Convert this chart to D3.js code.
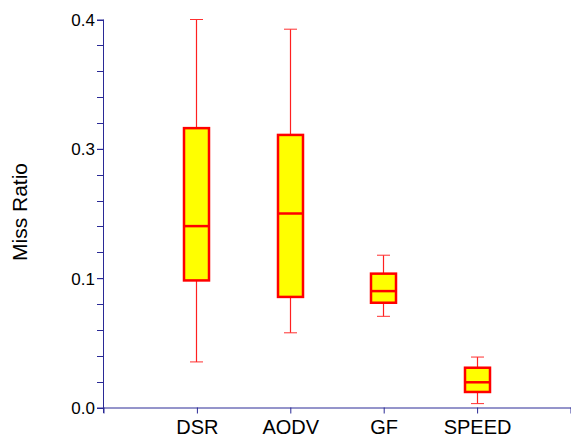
<!DOCTYPE html>
<html>
<head>
<meta charset="utf-8">
<script src="https://cdn.jsdelivr.net/npm/d3@7"></script>
<style>
  body { margin: 0; background: #fff; }
  text { font-family: "Liberation Sans", Arial, sans-serif; fill: #000; }
</style>
</head>
<body>
<div id="canvas"></div>
<script>
// Box plot of miss ratio per routing protocol
const categories = ["DSR", "AODV", "GF", "SPEED"];
const lower  = [0.047, 0.077, 0.094, 0.004];
const q1     = [0.131, 0.114, 0.108, 0.016];
const median = [0.187, 0.200, 0.120, 0.026];
const q3     = [0.288, 0.281, 0.138, 0.041];
const upper  = [0.400, 0.390, 0.157, 0.052];

const yTickValues = [0, 0.1333, 0.2667, 0.4];
const yTickLabels = ["0.0", "0.1", "0.3", "0.4"];

const width = 571, height = 437;
const axisColor = "#2a2a96";

const svg = d3.select("#canvas").append("svg")
  .attr("width", width).attr("height", height);

const x = d3.scaleLinear().domain([0, 5]).range([103.5, 570.5]);
const y = d3.scaleLinear().domain([0, 0.4]).range([407.5, 19.5]);

// y axis (major + minor ticks)
const minor = d3.range(0, 16).map(i => i * 0.4 / 15);
svg.append("g").selectAll("line.minor").data(minor).join("line")
  .attr("x1", 97).attr("x2", 103.5)
  .attr("y1", d => Math.round(y(d)) + 0.5).attr("y2", d => Math.round(y(d)) + 0.5)
  .attr("stroke", axisColor);

const yAxis = d3.axisLeft(y).tickValues(yTickValues)
  .tickFormat((d, i) => yTickLabels[i]).tickSize(7).tickPadding(1).tickSizeOuter(0);
const gy = svg.append("g").attr("transform", "translate(103.5,0)").call(yAxis);
gy.select(".domain").remove();
gy.selectAll("line").attr("stroke", axisColor).attr("transform", "translate(-103.5,0)")
  .attr("x1", 97).attr("x2", 103.5);
gy.selectAll("text").style("font-size", "17px").attr("x", -8.5).attr("dy", "0.36em");

svg.append("line").attr("x1", 103.5).attr("x2", 103.5).attr("y1", 19.5).attr("y2", 413)
  .attr("stroke", axisColor);

// x axis
const xAxis = d3.axisBottom(x).tickValues([0, 1, 2, 3, 4, 5])
  .tickFormat(d => categories[d - 1] || "").tickSize(6).tickPadding(6).tickSizeOuter(0);
const gx = svg.append("g").attr("transform", "translate(0,407.5)").call(xAxis);
gx.select(".domain").attr("stroke", axisColor);
gx.selectAll("line").attr("stroke", axisColor);
gx.selectAll("text").style("font-size", "20px");

// y label
svg.append("text")
  .attr("transform", "translate(27,212) rotate(-90)")
  .attr("text-anchor", "middle")
  .style("font-size", "21px")
  .text("Miss Ratio");

// boxes
const boxW = 25, capW = 13;
const g = svg.append("g").selectAll("g").data(categories).join("g")
  .attr("transform", (d, i) => `translate(${Math.floor(x(i + 1)) + 0.5},0)`);

g.append("line").attr("x1", 0).attr("x2", 0)
  .attr("y1", (d, i) => y(upper[i])).attr("y2", (d, i) => y(lower[i]))
  .attr("stroke", "#ff2020").attr("stroke-width", 1.2);
g.append("line").attr("x1", -capW / 2).attr("x2", capW / 2)
  .attr("y1", (d, i) => y(upper[i])).attr("y2", (d, i) => y(upper[i]))
  .attr("stroke", "#ff3030");
g.append("line").attr("x1", -capW / 2).attr("x2", capW / 2)
  .attr("y1", (d, i) => y(lower[i])).attr("y2", (d, i) => y(lower[i]))
  .attr("stroke", "#ff3030");
g.append("rect").attr("x", -boxW / 2).attr("width", boxW)
  .attr("y", (d, i) => y(q3[i])).attr("height", (d, i) => y(q1[i]) - y(q3[i]))
  .attr("fill", "#ffff00").attr("stroke", "#ff0000").attr("stroke-width", 2.5);
g.append("line").attr("x1", -boxW / 2).attr("x2", boxW / 2)
  .attr("y1", (d, i) => y(median[i])).attr("y2", (d, i) => y(median[i]))
  .attr("stroke", "#ff0000").attr("stroke-width", 2.5);
</script>
</body>
</html>
